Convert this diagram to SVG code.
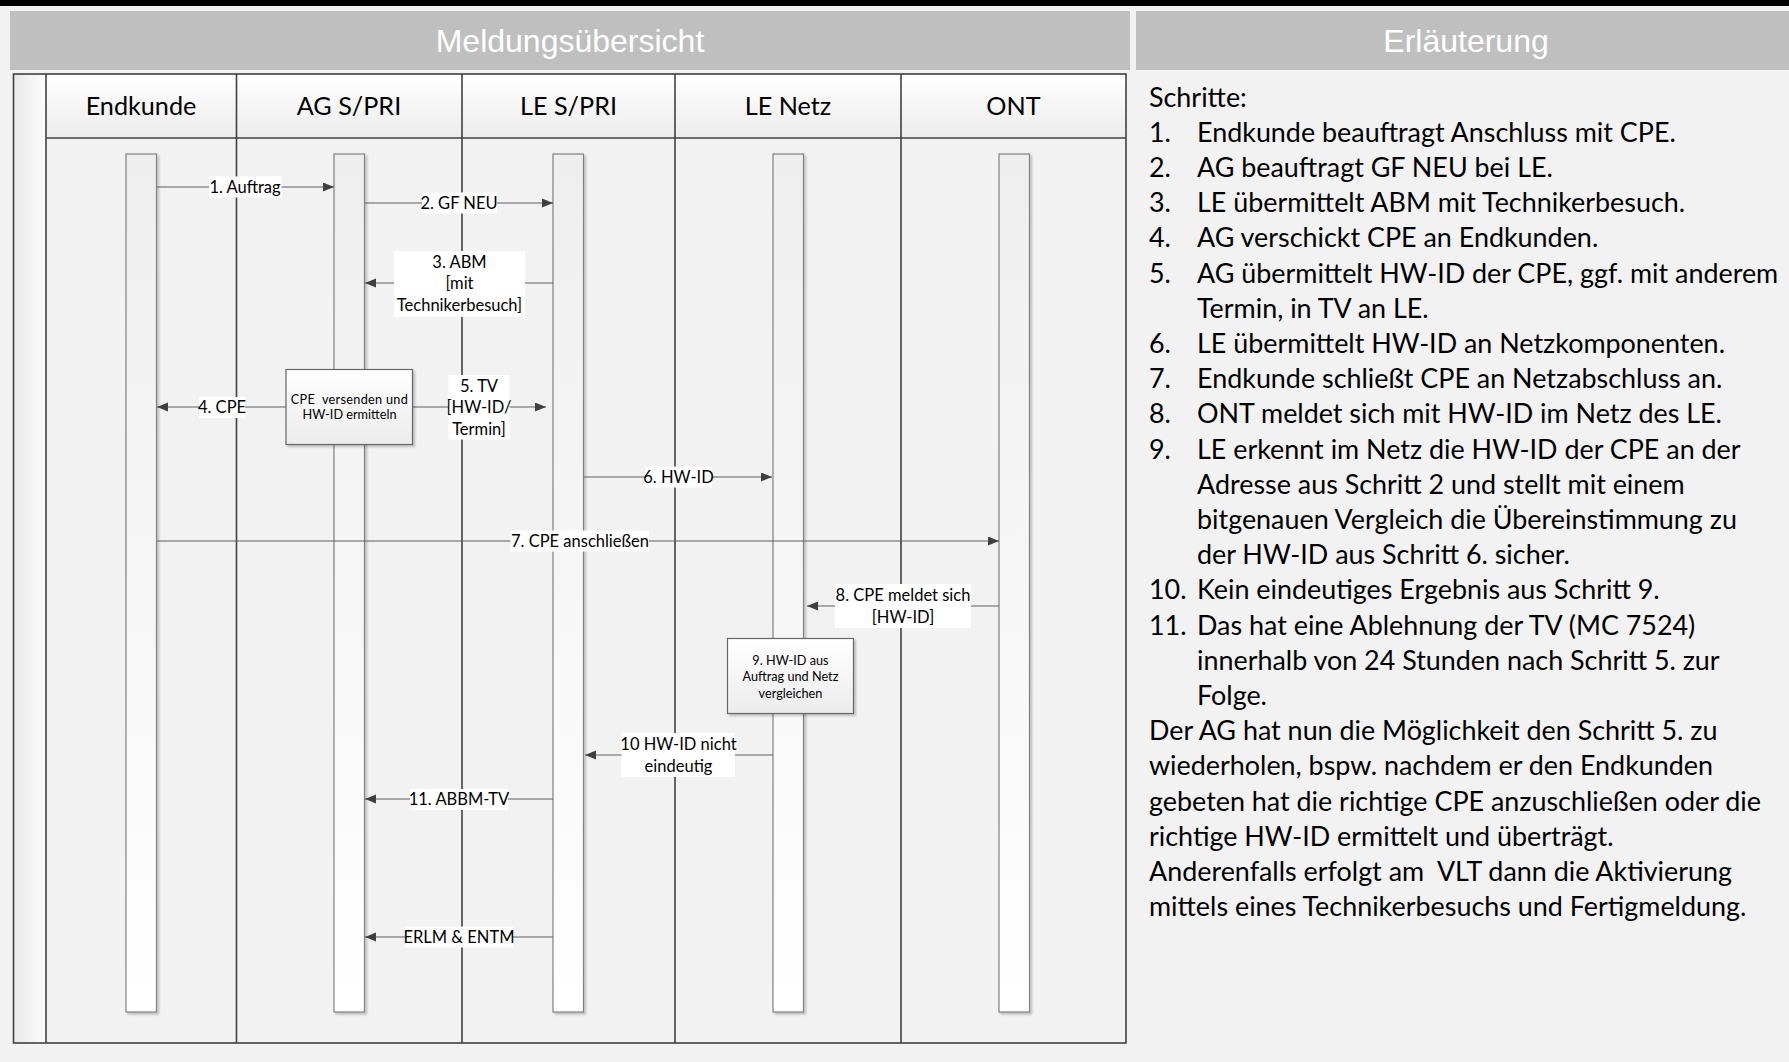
<svg xmlns="http://www.w3.org/2000/svg" width="1789" height="1062" viewBox="0 0 1789 1062">
  <defs>
    <style>
      .title { font-family: "Liberation Sans", Arial, sans-serif; font-size: 32px; fill: #ffffff; text-anchor: middle; }
      .lane { font-family: Lato, "Liberation Sans", sans-serif; font-size: 25.2px; fill: #000; text-anchor: middle; }
      .lbl { font-family: Lato, "Liberation Sans", sans-serif; font-size: 16.5px; fill: #000; text-anchor: middle; }
      .small { font-family: Lato, "Liberation Sans", sans-serif; font-size: 12.7px; fill: #000; text-anchor: middle; }
      .note { font-family: Lato, "Liberation Sans", sans-serif; font-size: 26.9px; fill: #000; }
      .grid { stroke: #404040; stroke-width: 1.6; fill: none; }
      .bar { fill: url(#barGrad); stroke: #808080; stroke-width: 1.2; filter: url(#shadow); }
      .proc { fill: url(#procGrad); stroke: #666; stroke-width: 1.2; filter: url(#shadow); }
      .msg { stroke: #5f5f5f; stroke-width: 1.1; fill: none; }
      .arr { marker-end: url(#ah); }
      .bg { fill: #ffffff; }
    </style>
    <linearGradient id="barGrad" x1="0" y1="0" x2="0" y2="1">
      <stop offset="0" stop-color="#eeeeee"/>
      <stop offset="1" stop-color="#ffffff"/>
    </linearGradient>
    <linearGradient id="procGrad" x1="0" y1="0" x2="0" y2="1">
      <stop offset="0" stop-color="#ffffff"/>
      <stop offset="1" stop-color="#ececec"/>
    </linearGradient>
    <linearGradient id="headGrad" x1="0" y1="0" x2="0" y2="1">
      <stop offset="0" stop-color="#ffffff"/>
      <stop offset="1" stop-color="#ececec"/>
    </linearGradient>
    <linearGradient id="stripGrad" x1="0" y1="0" x2="1" y2="0">
      <stop offset="0" stop-color="#e8e8e8"/>
      <stop offset="1" stop-color="#fcfcfc"/>
    </linearGradient>
    <filter id="shadow" x="-20%" y="-5%" width="150%" height="115%">
      <feDropShadow dx="2" dy="2" stdDeviation="1.2" flood-color="#000" flood-opacity="0.22"/>
    </filter>
    <marker id="ah" markerUnits="userSpaceOnUse" markerWidth="12" markerHeight="10" refX="11" refY="4.5" orient="auto">
      <path d="M0,0 L11,4.5 L0,9 Z" fill="#3f3f3f"/>
    </marker>
  </defs>

  <!-- background -->
  <rect x="0" y="0" width="1789" height="1062" fill="#f2f2f2"/>
  <rect x="0" y="0" width="1789" height="6" fill="#000"/>

  <!-- section headers -->
  <g id="header-meldungsuebersicht">
    <rect x="10" y="11" width="1120" height="59" fill="#bfbfbf"/>
    <text class="title" x="570" y="52">Meldungsübersicht</text>
  </g>
  <g id="header-erlaeuterung">
    <rect x="1136" y="11" width="653" height="59" fill="#bfbfbf"/>
    <text class="title" x="1466" y="52">Erläuterung</text>
  </g>

  <!-- swimlane frame -->
  <g id="frame">
    <rect x="13.5" y="74" width="1112.5" height="969" fill="#f2f2f2"/>
    <rect x="13.5" y="74" width="32.5" height="969" fill="url(#stripGrad)"/>
    <rect x="46" y="74" width="1080" height="64" fill="url(#headGrad)"/>
  </g>

  <g id="lane-endkunde">
    <text class="lane" x="141" y="115">Endkunde</text>
  </g>
  <g id="lane-ag">
    <text class="lane" x="349" y="115">AG S/PRI</text>
  </g>
  <g id="lane-le">
    <text class="lane" x="568.5" y="115">LE S/PRI</text>
  </g>
  <g id="lane-netz">
    <text class="lane" x="788" y="115">LE Netz</text>
  </g>
  <g id="lane-ont">
    <text class="lane" x="1013.5" y="115">ONT</text>
  </g>

  <g id="grid-lines">
    <line class="grid" x1="46" y1="138" x2="1126" y2="138"/>
    <line class="grid" x1="46" y1="74" x2="46" y2="1043"/>
    <line class="grid" x1="236.5" y1="74" x2="236.5" y2="1043"/>
    <line class="grid" x1="462" y1="74" x2="462" y2="1043"/>
    <line class="grid" x1="675" y1="74" x2="675" y2="1043"/>
    <line class="grid" x1="901" y1="74" x2="901" y2="1043"/>
    <rect class="grid" x="13.5" y="74" width="1112.5" height="969"/>
  </g>

  <!-- lifelines -->
  <g id="lifeline-endkunde"><rect class="bar" x="126" y="154" width="30.5" height="858"/></g>
  <g id="lifeline-ag"><rect class="bar" x="334" y="154" width="30.5" height="858"/></g>
  <g id="lifeline-le"><rect class="bar" x="553" y="154" width="30.5" height="858"/></g>
  <g id="lifeline-netz"><rect class="bar" x="773" y="154" width="30.5" height="858"/></g>
  <g id="lifeline-ont"><rect class="bar" x="999" y="154" width="30.5" height="858"/></g>

  <!-- connectors -->
  <g id="connectors">
    <line class="msg arr" x1="157" y1="187" x2="334" y2="187"/>
    <line class="msg arr" x1="365" y1="203" x2="553" y2="203"/>
    <line class="msg arr" x1="553" y1="283" x2="365" y2="283"/>
    <line class="msg arr" x1="286" y1="407" x2="157" y2="407"/>
    <line class="msg arr" x1="412" y1="407" x2="546" y2="407"/>
    <line class="msg arr" x1="584" y1="477" x2="772" y2="477"/>
    <line class="msg arr" x1="157" y1="541" x2="999" y2="541"/>
    <line class="msg arr" x1="999" y1="606" x2="807" y2="606"/>
    <line class="msg arr" x1="773" y1="755" x2="585" y2="755"/>
    <line class="msg arr" x1="553" y1="799" x2="365" y2="799"/>
    <line class="msg arr" x1="553" y1="937" x2="365" y2="937"/>

    <!-- labels -->
    <rect class="bg" x="209" y="176.5" width="72.5" height="21"/>
    <text class="lbl" x="245" y="193">1. Auftrag</text>

    <rect class="bg" x="422" y="192.5" width="75" height="21"/>
    <text class="lbl" x="459" y="209">2. GF NEU</text>

    <rect class="bg" x="394" y="251" width="131" height="66"/>
    <text class="lbl" x="459.5" y="267.5">3. ABM</text>
    <text class="lbl" x="459.5" y="289">[mit</text>
    <text class="lbl" x="459.5" y="311">Technikerbesuch]</text>

    <rect class="bg" x="199" y="397" width="46" height="21"/>
    <text class="lbl" x="222" y="413">4. CPE</text>

    <rect class="bg" x="448.5" y="375" width="61" height="64.5"/>
    <text class="lbl" x="479" y="391.5">5. TV</text>
    <text class="lbl" x="479" y="413">[HW-ID/</text>
    <text class="lbl" x="479" y="435">Termin]</text>

    <rect class="bg" x="645" y="466.5" width="67" height="21"/>
    <text class="lbl" x="678.5" y="483">6. HW-ID</text>

    <rect class="bg" x="510.5" y="530.5" width="138.5" height="21"/>
    <text class="lbl" x="580" y="547">7. CPE anschließen</text>

    <rect class="bg" x="835" y="584" width="136" height="44"/>
    <text class="lbl" x="903" y="601">8. CPE meldet sich</text>
    <text class="lbl" x="903" y="622.5">[HW-ID]</text>

    <rect class="bg" x="621.5" y="733" width="113.5" height="44"/>
    <text class="lbl" x="678.5" y="750">10 HW-ID nicht</text>
    <text class="lbl" x="678.5" y="771.5">eindeutig</text>

    <rect class="bg" x="410" y="789" width="98" height="21"/>
    <text class="lbl" x="459" y="805">11. ABBM-TV</text>

    <rect class="bg" x="405" y="926.5" width="108" height="21"/>
    <text class="lbl" x="459" y="943">ERLM &amp; ENTM</text>
  </g>

  <!-- process boxes -->
  <g id="process-cpe-versenden">
    <rect class="proc" x="286" y="369.5" width="126.5" height="75"/>
    <text class="small" x="349.5" y="403.5" letter-spacing="0.3" xml:space="preserve">CPE  versenden und</text>
    <text class="small" x="349.5" y="419">HW-ID ermitteln</text>
  </g>
  <g id="process-hwid-vergleichen">
    <rect class="proc" x="727.5" y="638.5" width="126" height="75"/>
    <text class="small" x="790.5" y="664.5">9. HW-ID aus</text>
    <text class="small" x="790.5" y="681">Auftrag und Netz</text>
    <text class="small" x="790.5" y="697.5">vergleichen</text>
  </g>

  <!-- explanation -->
  <g id="erlaeuterung-text" class="note">
    <text x="1149" y="106.5">Schritte:</text>
    <text x="1149" y="141.7">1.</text><text x="1197" y="141.7">Endkunde beauftragt Anschluss mit CPE.</text>
    <text x="1149" y="176.9">2.</text><text x="1197" y="176.9">AG beauftragt GF NEU bei LE.</text>
    <text x="1149" y="212.1">3.</text><text x="1197" y="212.1">LE übermittelt ABM mit Technikerbesuch.</text>
    <text x="1149" y="247.3">4.</text><text x="1197" y="247.3">AG verschickt CPE an Endkunden.</text>
    <text x="1149" y="282.5">5.</text><text x="1197" y="282.5">AG übermittelt HW-ID der CPE, ggf. mit anderem</text>
    <text x="1197" y="317.7">Termin, in TV an LE.</text>
    <text x="1149" y="352.9">6.</text><text x="1197" y="352.9">LE übermittelt HW-ID an Netzkomponenten.</text>
    <text x="1149" y="388.1">7.</text><text x="1197" y="388.1">Endkunde schließt CPE an Netzabschluss an.</text>
    <text x="1149" y="423.3">8.</text><text x="1197" y="423.3">ONT meldet sich mit HW-ID im Netz des LE.</text>
    <text x="1149" y="458.5">9.</text><text x="1197" y="458.5">LE erkennt im Netz die HW-ID der CPE an der</text>
    <text x="1197" y="493.7">Adresse aus Schritt 2 und stellt mit einem</text>
    <text x="1197" y="528.9">bitgenauen Vergleich die Übereinstimmung zu</text>
    <text x="1197" y="564.1">der HW-ID aus Schritt 6. sicher.</text>
    <text x="1149" y="599.3">10.</text><text x="1197" y="599.3">Kein eindeutiges Ergebnis aus Schritt 9.</text>
    <text x="1149" y="634.5">11.</text><text x="1197" y="634.5">Das hat eine Ablehnung der TV (MC 7524)</text>
    <text x="1197" y="669.7">innerhalb von 24 Stunden nach Schritt 5. zur</text>
    <text x="1197" y="704.9">Folge.</text>
    <text x="1149" y="740.1">Der AG hat nun die Möglichkeit den Schritt 5. zu</text>
    <text x="1149" y="775.3">wiederholen, bspw. nachdem er den Endkunden</text>
    <text x="1149" y="810.5">gebeten hat die richtige CPE anzuschließen oder die</text>
    <text x="1149" y="845.7">richtige HW-ID ermittelt und überträgt.</text>
    <text x="1149" y="880.9" xml:space="preserve">Anderenfalls erfolgt am  VLT dann die Aktivierung</text>
    <text x="1149" y="916.1">mittels eines Technikerbesuchs und Fertigmeldung.</text>
  </g>
</svg>
